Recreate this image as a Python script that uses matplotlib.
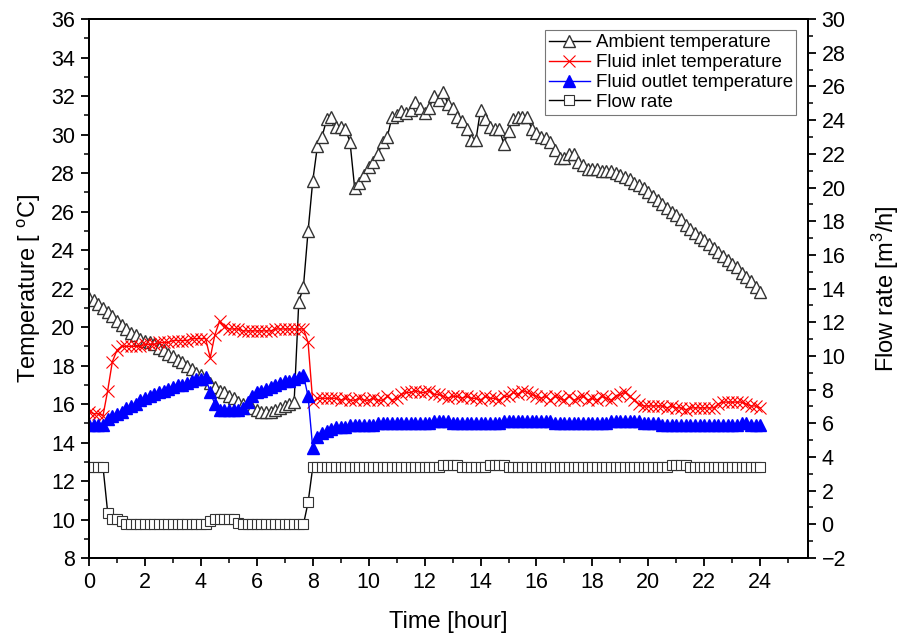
import numpy as np
import matplotlib.pyplot as plt

plt.rcParams["font.family"] = ["Liberation Sans", "DejaVu Sans"]

# time axis: 10-minute samples over 24 h
time_h = np.arange(145) / 6.0

ambient = [
    21.5, 21.4, 21.2, 21.0, 20.8, 20.6, 20.3, 20.1, 19.9, 19.7, 19.6, 19.4,
    19.3, 19.2, 19.1, 18.9, 18.8, 18.6, 18.5, 18.3, 18.2, 18.0, 17.8, 17.6,
    17.5, 17.3, 17.1, 16.9, 16.7, 16.6, 16.4, 16.3, 16.1, 16.0, 15.9, 15.8,
    15.7, 15.6, 15.6, 15.6, 15.7, 15.8, 15.9, 16.0, 16.1, 21.3, 22.1, 25.0,
    27.6, 29.4, 29.9, 30.8, 30.9, 30.4, 30.4, 30.3, 29.6, 27.2, 27.5, 27.9,
    28.3, 28.6, 29.0, 29.6, 29.9, 30.9, 31.0, 31.2, 31.1, 31.3, 31.7, 31.4,
    31.1, 31.4, 32.0, 31.8, 32.2, 31.6, 31.4, 30.9, 30.7, 30.3, 29.7, 29.7,
    31.3, 30.8, 30.4, 30.3, 30.3, 29.5, 30.2, 30.8, 30.9, 30.9, 30.9, 30.3,
    30.1, 29.9, 29.8, 29.6, 29.2, 28.8, 28.8, 29.0, 29.0, 28.6, 28.4, 28.2,
    28.2, 28.2, 28.1, 28.1, 28.1, 28.0, 27.9, 27.8, 27.7, 27.5, 27.4, 27.2,
    27.0, 26.8, 26.6, 26.4, 26.2, 26.0, 25.8, 25.6, 25.3, 25.1, 24.9, 24.7,
    24.5, 24.3, 24.1, 23.9, 23.7, 23.5, 23.3, 23.1, 22.8, 22.6, 22.4, 22.1,
    21.8,
]

inlet = [
    15.6, 15.5, 15.5, 15.4, 16.7, 18.2, 18.8, 19.0, 19.0, 19.0, 19.0, 19.0,
    19.1, 19.1, 19.1, 19.2, 19.2, 19.2, 19.3, 19.3, 19.3, 19.3, 19.4, 19.4,
    19.4, 19.4, 18.4, 19.6, 20.3, 20.0, 19.9, 19.9, 19.9, 19.8, 19.8, 19.8,
    19.8, 19.8, 19.8, 19.8, 19.9, 19.9, 19.9, 19.9, 19.9, 19.9, 19.9, 19.2,
    16.1, 16.3, 16.3, 16.3, 16.3, 16.3, 16.2, 16.3, 16.2, 16.2, 16.3, 16.2,
    16.2, 16.3, 16.2, 16.2, 16.4, 16.2, 16.3, 16.5, 16.6, 16.6, 16.7, 16.6,
    16.6, 16.7, 16.5, 16.5, 16.4, 16.3, 16.4, 16.4, 16.3, 16.4, 16.3, 16.3,
    16.2, 16.4, 16.3, 16.3, 16.2, 16.4, 16.4, 16.6, 16.5, 16.7, 16.6, 16.5,
    16.4, 16.3, 16.4, 16.2, 16.4, 16.3, 16.2, 16.4, 16.2, 16.3, 16.4, 16.2,
    16.3, 16.2, 16.4, 16.3, 16.2, 16.4, 16.5, 16.6, 16.4, 16.2, 16.0, 15.9,
    15.9, 15.9, 15.9, 15.9, 15.8, 15.9, 15.8, 15.8, 15.7, 15.8, 15.8, 15.8,
    15.8, 15.8, 15.8, 16.0, 16.1, 16.1, 16.1, 16.1, 16.1, 16.0, 15.9, 15.9,
    15.8,
]

outlet = [
    14.9, 14.9, 14.9, 14.9, 15.2, 15.4, 15.5, 15.6, 15.8, 15.9, 16.0, 16.2,
    16.3, 16.4, 16.5, 16.6, 16.7, 16.8, 16.9, 17.0, 17.0, 17.1, 17.2, 17.3,
    17.3, 17.4, 16.6, 16.0, 15.7, 15.7, 15.7, 15.7, 15.7, 15.8, 16.1, 16.4,
    16.6, 16.7, 16.8, 16.9, 17.0, 17.1, 17.2, 17.2, 17.3, 17.4, 17.5, 16.4,
    13.7, 14.3, 14.5, 14.6, 14.7, 14.8, 14.8, 14.8, 14.9, 14.9, 14.9, 14.9,
    14.9, 14.9, 15.0, 15.0, 15.0, 15.0, 15.0, 15.0, 15.0, 15.0, 15.0, 15.0,
    15.0, 15.0, 15.1, 15.1, 15.1, 15.1, 15.0, 15.0, 15.0, 15.0, 15.0, 15.0,
    15.0, 15.0, 15.0, 15.0, 15.0, 15.1, 15.1, 15.1, 15.1, 15.1, 15.1, 15.1,
    15.1, 15.1, 15.1, 15.1, 15.0, 15.0, 15.0, 15.0, 15.0, 15.0, 15.0, 15.0,
    15.0, 15.0, 15.0, 15.0, 15.1, 15.1, 15.1, 15.1, 15.1, 15.1, 15.1, 15.0,
    15.0, 15.0, 15.0, 14.9, 14.9, 14.9, 14.9, 14.9, 14.9, 14.9, 14.9, 14.9,
    14.9, 14.9, 14.9, 14.9, 14.9, 14.9, 14.9, 14.9, 15.0, 15.0, 14.9, 14.9,
    14.9,
]

flow = [
    3.4, 3.4, 3.4, 3.4, 0.7, 0.3, 0.3, 0.2, 0.0, 0.0, 0.0, 0.0,
    0.0, 0.0, 0.0, 0.0, 0.0, 0.0, 0.0, 0.0, 0.0, 0.0, 0.0, 0.0,
    0.0, 0.0, 0.2, 0.3, 0.3, 0.3, 0.3, 0.3, 0.1, 0.0, 0.0, 0.0,
    0.0, 0.0, 0.0, 0.0, 0.0, 0.0, 0.0, 0.0, 0.0, 0.0, 0.0, 1.3,
    3.4, 3.4, 3.4, 3.4, 3.4, 3.4, 3.4, 3.4, 3.4, 3.4, 3.4, 3.4,
    3.4, 3.4, 3.4, 3.4, 3.4, 3.4, 3.4, 3.4, 3.4, 3.4, 3.4, 3.4,
    3.4, 3.4, 3.4, 3.4, 3.5, 3.5, 3.5, 3.5, 3.4, 3.4, 3.4, 3.4,
    3.4, 3.4, 3.5, 3.5, 3.5, 3.5, 3.4, 3.4, 3.4, 3.4, 3.4, 3.4,
    3.4, 3.4, 3.4, 3.4, 3.4, 3.4, 3.4, 3.4, 3.4, 3.4, 3.4, 3.4,
    3.4, 3.4, 3.4, 3.4, 3.4, 3.4, 3.4, 3.4, 3.4, 3.4, 3.4, 3.4,
    3.4, 3.4, 3.4, 3.4, 3.4, 3.5, 3.5, 3.5, 3.5, 3.4, 3.4, 3.4,
    3.4, 3.4, 3.4, 3.4, 3.4, 3.4, 3.4, 3.4, 3.4, 3.4, 3.4, 3.4,
    3.4,
]

fig = plt.figure(figsize=(9.04, 6.37), dpi=100)
ax = fig.add_axes([0.0985, 0.124, 0.795, 0.846])
ax2 = ax.twinx()

l1, = ax.plot(time_h, ambient, color="black", lw=1.0, marker="^", ms=8.5,
              mfc="white", mec="#333333", mew=1.0, label="Ambient temperature")
l2, = ax.plot(time_h, inlet, color="red", lw=1.0, marker="x", ms=8.5,
              mew=0.8, label="Fluid inlet temperature")
l3, = ax.plot(time_h, outlet, color="blue", lw=1.0, marker="^", ms=8,
              mfc="blue", mec="blue", label="Fluid outlet temperature")
l4, = ax2.plot(time_h, flow, color="black", lw=1.0, marker="s", ms=6.5,
               mfc="white", mec="#333333", mew=0.8, label="Flow rate")
ax.set_zorder(ax2.get_zorder() + 1)
ax.patch.set_visible(False)

ax.set_xlim(0, 25.7)
ax.set_ylim(8, 36)
ax2.set_ylim(-2, 30)
ax.set_xticks(np.arange(0, 25, 2))
ax.set_xticks(np.arange(0, 26, 1), minor=True)
ax.set_yticks(np.arange(8, 37, 2))
ax.set_yticks(np.arange(8, 37, 1), minor=True)
ax2.set_yticks(np.arange(-2, 31, 2))
ax2.set_yticks(np.arange(-2, 31, 1), minor=True)

for a in (ax, ax2):
    a.tick_params(which="major", direction="out", length=6, width=1.3,
                  labelsize=15.5, pad=4)
    a.tick_params(which="minor", direction="out", length=3.5, width=1.1)
    for s in a.spines.values():
        s.set_linewidth(1.4)

ax.set_xlabel("Time [hour]", fontsize=17, labelpad=13)
ax.set_ylabel("Temperature [ $^\\mathregular{o}$C]", fontsize=17, labelpad=6)
ax2.set_ylabel("Flow rate [m$^\\mathregular{3}$/h]", fontsize=17, labelpad=17)

leg = ax.legend(handles=[l1, l2, l3, l4], loc="upper right", fontsize=13.5,
                frameon=True, fancybox=False, edgecolor="#555555",
                borderpad=0.2, labelspacing=0.15, handlelength=2.2,
                handletextpad=0.3, borderaxespad=0.6)
leg.get_frame().set_linewidth(0.8)

fig.savefig("out.png", dpi=100)
